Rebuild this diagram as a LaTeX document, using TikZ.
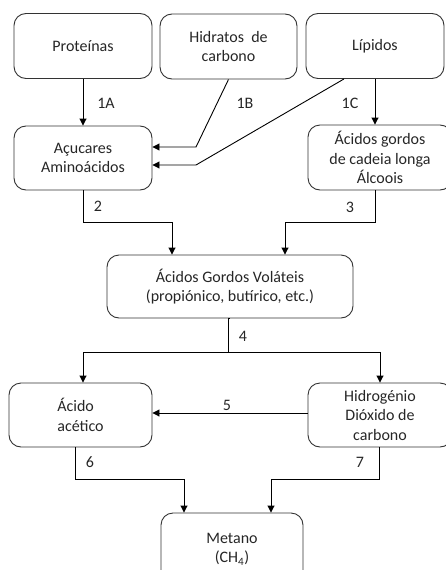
\documentclass[tikz,border=0pt]{standalone}
\usepackage{fontspec}
\setmainfont{Carlito}
\usetikzlibrary{arrows.meta}

\begin{document}
\begin{tikzpicture}[x=1pt, y=-1pt, font=\fontsize{16}{19.5}\selectfont,
  box/.style={draw=black!80, line width=0.9pt, rounded corners=12pt, align=center, inner sep=0pt, text=black!85},
  arr/.style={-{Triangle[length=7pt,width=7pt]}, line width=0.9pt},
  lbl/.style={text=black!85}]
\useasboundingbox (0,0) rectangle (445,570);
\node[box, minimum width=138, minimum height=65] (prot) at (83, 46) {Proteínas};
\node[box, minimum width=137, minimum height=65] (hid) at (228.5, 46.5) {Hidratos~ de\\carbono};
\node[box, minimum width=138, minimum height=65] (lip) at (375, 46) {Lípidos};
\node[box, minimum width=138, minimum height=64] (acu) at (83, 158) {Açucares\\Aminoácidos};
\node[box, minimum width=144, minimum height=65] (agc) at (380, 157.5) {Ácidos gordos\\de cadeia longa\\Álcoois};
\node[box, minimum width=246, minimum height=63] (agv) at (230, 286.5) {Ácidos Gordos Voláteis\\(propiónico, butírico, etc.)};
\node[box, minimum width=143, minimum height=64, align=left] (ace) at (80.5, 415) {Ácido\\acético};
\node[box, minimum width=144, minimum height=64] (hyd) at (380, 415) {Hidrogénio\\Dióxido de\\carbono};
\node[box, minimum width=142, minimum height=72] (met) at (232, 549) {Metano\\(CH\textsubscript{4})};
% labels
\node[lbl] (l1a) at (106, 103) {1A};
\node[lbl] (l1b) at (245, 103) {1B};
\node[lbl] (l1c) at (350, 103) {1C};
\node[lbl] (l2) at (98, 206) {2};
\node[lbl] (l3) at (350, 207) {3};
\node[lbl] (l4) at (243, 336) {4};
\node[lbl] (l5) at (227, 405) {5};
\node[lbl] (l6) at (90, 462) {6};
\node[lbl] (l7) at (360, 462) {7};
\coordinate (b1) at (196, 147);
\coordinate (c1) at (196, 165);
% hydrolysis
\draw[arr] (prot.south) -- (acu.north);
\draw[arr] (hid.south) -- (b1) -- (b1 -| acu.east);
\draw[arr] ([xshift=-31]lip.south) -- (c1) -- (c1 -| acu.east);
\draw[arr] (lip.south) -- (lip.south |- agc.north);
% acidogenesis
\draw[arr] (acu.south) -- ++(0,32) -| ([xshift=-58]agv.north);
\draw[arr] ([xshift=-5]agc.south) -- ++(0,32) -| ([xshift=55]agv.north);
% acetogenesis
\draw (agv.south) -- ++(-2,0) -- ++(0,34) coordinate (s4);
\draw[arr] (s4) -| ([xshift=2.5]ace.north);
\draw[arr] (s4) -| (hyd.north);
\draw[arr] (hyd.west |- 0,413) -- (ace.east |- 0,413);
% methanogenesis
\draw[arr] ([xshift=-5.5]ace.south) -- ++(0,32) -| ([xshift=-48]met.north);
\draw[arr] ([xshift=-1]hyd.south) -- ++(0,32) -| ([xshift=39]met.north);
\end{tikzpicture}
\end{document}
